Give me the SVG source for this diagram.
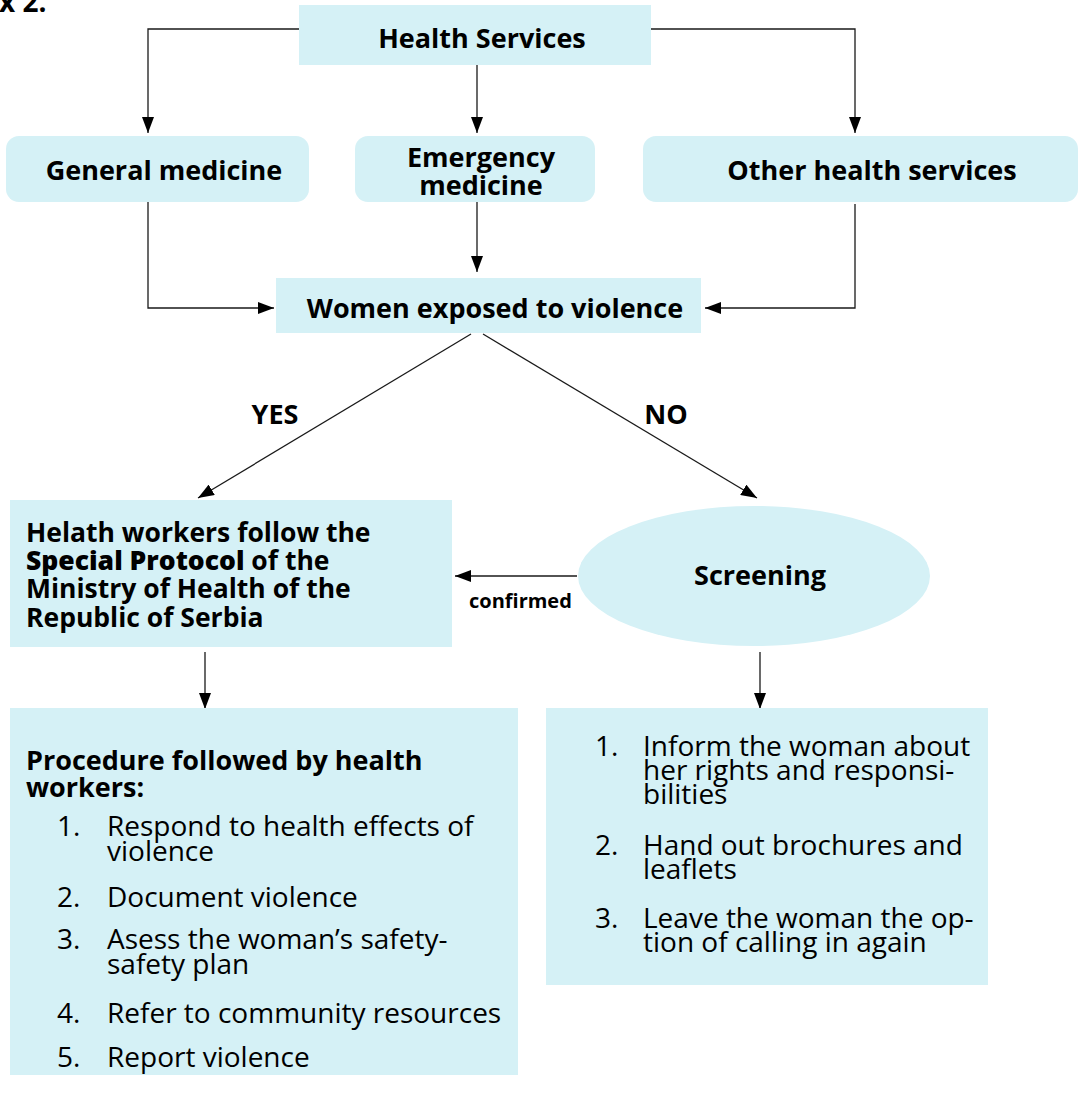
<svg xmlns="http://www.w3.org/2000/svg" width="1081" height="1106" viewBox="0 0 1081 1106">
<style>
  .box { fill: #d5f1f6; }
  .t { font-family: "Open Sans", "Liberation Sans", sans-serif; fill: #000; }
  .h { font-weight: 700; font-size: 27px; }
  .b { font-weight: 700; font-size: 26.5px; }
  .bb { font-weight: 800; }
  .r { font-weight: 400; font-size: 28px; }
  .lbl { font-weight: 700; font-size: 27px; }
  .sm { font-weight: 700; font-size: 20px; }
  .c { text-anchor: middle; }
  .ln { fill: none; stroke: #1a1a1a; stroke-width: 1.3; }
</style>
<defs>
  <marker id="ah" markerUnits="userSpaceOnUse" markerWidth="17" markerHeight="12" refX="16" refY="6" orient="auto">
    <path d="M0,0 L16,6 L0,12 z" fill="#000"/>
  </marker>
</defs>
<rect width="1081" height="1106" fill="#fff"/>
<text class="t" x="-1" y="12" font-weight="700" font-size="28">x 2.</text>

<g id="connectors">
  <path class="ln" d="M299,29 H148 V133" marker-end="url(#ah)"/>
  <path class="ln" d="M477,65 V133" marker-end="url(#ah)"/>
  <path class="ln" d="M651,29 H855 V133" marker-end="url(#ah)"/>
  <path class="ln" d="M148,202 V308 H274" marker-end="url(#ah)"/>
  <path class="ln" d="M477,202 V272" marker-end="url(#ah)"/>
  <path class="ln" d="M855,204 V308 H705" marker-end="url(#ah)"/>
  <path class="ln" d="M471,334 L198,498" marker-end="url(#ah)"/>
  <path class="ln" d="M483,334 L757,498" marker-end="url(#ah)"/>
  <path class="ln" d="M577,576 H455" marker-end="url(#ah)"/>
  <path class="ln" d="M205,652 V709" marker-end="url(#ah)"/>
  <path class="ln" d="M760,652 V709" marker-end="url(#ah)"/>
  <text class="t lbl c" x="275" y="424">YES</text>
  <text class="t lbl c" x="666" y="424">NO</text>
  <text class="t sm" x="469" y="608">confirmed</text>
</g>

<g id="health-services">
  <rect class="box" x="299" y="5" width="352" height="60"/>
  <text class="t h c" x="482" y="48">Health Services</text>
</g>
<g id="general-medicine">
  <rect class="box" x="6" y="136" width="303" height="66" rx="13"/>
  <text class="t h c" x="164" y="180">General medicine</text>
</g>
<g id="emergency-medicine">
  <rect class="box" x="355" y="136" width="240" height="66" rx="13"/>
  <text class="t h c" x="481" y="167">Emergency</text>
  <text class="t h c" x="481" y="195">medicine</text>
</g>
<g id="other-health-services">
  <rect class="box" x="643" y="136" width="435" height="66" rx="13"/>
  <text class="t h c" x="872" y="180">Other health services</text>
</g>
<g id="women-exposed">
  <rect class="box" x="276" y="278" width="425" height="55"/>
  <text class="t h c" x="495" y="318">Women exposed to violence</text>
</g>
<g id="special-protocol">
  <rect class="box" x="10" y="500" width="442" height="147"/>
  <text class="t b" x="26" y="542">Helath workers follow the</text>
  <text class="t b" x="26" y="570"><tspan class="bb">Special Protocol</tspan> of the</text>
  <text class="t b" x="26" y="598">Ministry of Health of the</text>
  <text class="t b" x="26" y="627">Republic of Serbia</text>
</g>
<g id="screening">
  <ellipse class="box" cx="754" cy="576" rx="176" ry="70"/>
  <text class="t h c" x="760" y="585">Screening</text>
</g>
<g id="procedure">
  <rect class="box" x="10" y="708" width="508" height="367"/>
  <text class="t h" x="26" y="770">Procedure followed by health</text>
  <text class="t h" x="26" y="797">workers:</text>
  <text class="t r" x="57" y="836">1.</text>
  <text class="t r" x="107" y="836">Respond to health effects of</text>
  <text class="t r" x="107" y="861">violence</text>
  <text class="t r" x="57" y="907">2.</text>
  <text class="t r" x="107" y="907">Document violence</text>
  <text class="t r" x="57" y="949">3.</text>
  <text class="t r" x="107" y="949">Asess the woman’s safety-</text>
  <text class="t r" x="107" y="974">safety plan</text>
  <text class="t r" x="57" y="1023">4.</text>
  <text class="t r" x="107" y="1023">Refer to community resources</text>
  <text class="t r" x="57" y="1067">5.</text>
  <text class="t r" x="107" y="1067">Report violence</text>
</g>
<g id="screening-actions">
  <rect class="box" x="546" y="708" width="442" height="277"/>
  <text class="t r" x="595" y="756">1.</text>
  <text class="t r" x="643" y="756">Inform the woman about</text>
  <text class="t r" x="643" y="780">her rights and responsi-</text>
  <text class="t r" x="643" y="804">bilities</text>
  <text class="t r" x="595" y="855">2.</text>
  <text class="t r" x="643" y="855">Hand out brochures and</text>
  <text class="t r" x="643" y="879">leaflets</text>
  <text class="t r" x="595" y="928">3.</text>
  <text class="t r" x="643" y="928">Leave the woman the op-</text>
  <text class="t r" x="643" y="952">tion of calling in again</text>
</g>
</svg>
